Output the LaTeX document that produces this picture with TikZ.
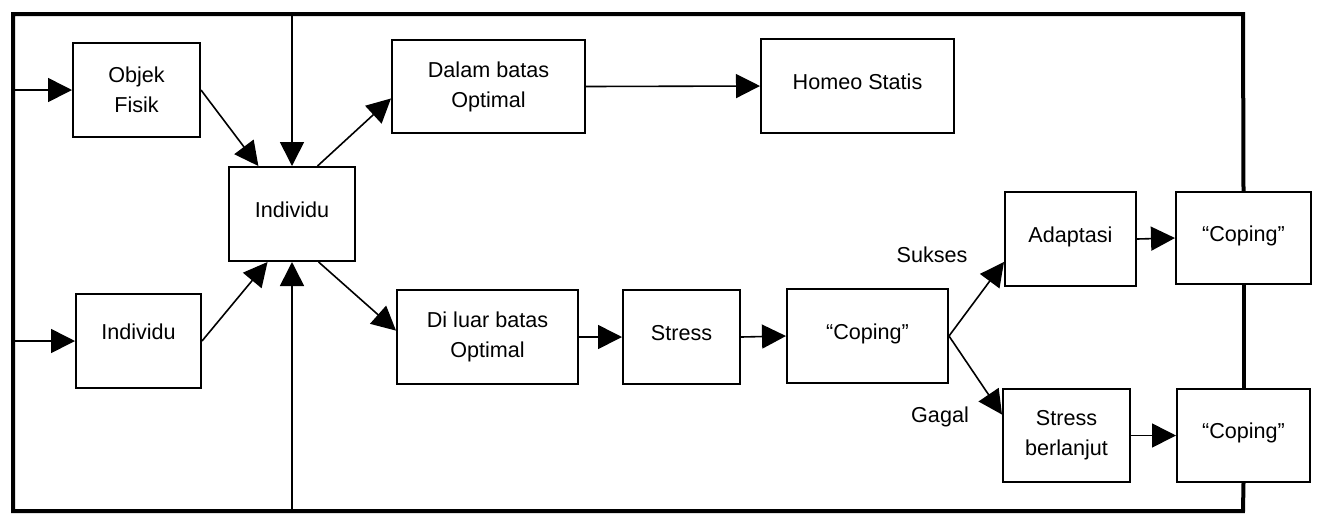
\documentclass[tikz,border=0pt]{standalone}
\usepackage{fontspec}
\setmainfont{Liberation Sans}
\usetikzlibrary{arrows.meta}

\begin{document}
\begin{tikzpicture}[x=0.5pt,y=-0.5pt,
  box/.style={draw, line width=1pt, align=center, inner sep=0pt,
    font=\fontsize{10.8}{15}\selectfont},
  oneline/.style={text height=8pt, text depth=5pt},
  lowline/.style={text height=8pt, text depth=10pt},
  flow/.style={line width=0.8pt, -{Triangle[length=12pt,width=12pt]}},
  loop/.style={line width=2pt, line join=miter},
  tag/.style={font=\fontsize{10.8}{13}\selectfont, inner sep=0pt}]

\useasboundingbox (0,0) rectangle (1318,516);

% corners of the surrounding feedback loop
\coordinate (TL) at (13,14);
\coordinate (TR) at (1243,14);
\coordinate (BR) at (1243,511);
\coordinate (BL) at (13,511);

% boxes
\node[box, minimum width=63.5pt, minimum height=47pt] (objek) at (136.5,90) {Objek\\Fisik};
\node[box, oneline, minimum width=63pt, minimum height=47pt] (indC) at (292,214) {Individu};
\node[box, lowline, minimum width=62.5pt, minimum height=47pt] (indL) at (138.5,341) {Individu};
\node[box, minimum width=96.5pt, minimum height=46.5pt] (dalam) at (488.5,86.5) {Dalam batas\\Optimal};
\node[box, oneline, minimum width=96.5pt, minimum height=47pt] (homeo) at (857.5,86) {Homeo Statis};
\node[box, minimum width=90.5pt, minimum height=47pt] (diluar) at (487.5,337) {Di luar batas\\Optimal};
\node[box, oneline, minimum width=58.5pt, minimum height=47pt] (stress) at (681.5,337) {Stress};
\node[box, oneline, minimum width=80.5pt, minimum height=47pt] (copM) at (867.5,336) {“Coping”};
\node[box, oneline, minimum width=65.5pt, minimum height=47pt] (adapt) at (1070.5,239) {Adaptasi};
\node[box, oneline, minimum width=67.5pt, minimum height=46pt] (copT) at (1243.5,238) {“Coping”};
\node[box, minimum width=63.5pt, minimum height=46.5pt] (sber) at (1066.5,435.5) {Stress\\berlanjut};
\node[box, oneline, minimum width=66.5pt, minimum height=46.5pt] (copB) at (1243.5,435.5) {“Coping”};

% branch labels
\node[tag] (sukses) at (932,255) {Sukses};
\node[tag] (gagal) at (940,417) {Gagal};

% feedback loop frame
\draw[loop] (copB.south) -- (BR) -- (BL) -- (TL) -- (TR) -- (copT.north);
\draw[loop] (copT.south) -- (copB.north);

% inputs from the frame
\draw[flow] (TL |- objek) -- (objek.west);
\draw[flow] (TL |- indL) -- (indL.west);
\draw[flow] (indC |- TL) -- (indC.north);
\draw[flow] (indC |- BL) -- (indC.south);

% flow through the model
\draw[flow] (objek.east) -- (indC.125);
\draw[flow] (indL.east) -- (indC.243);
\draw[flow] (indC.62) -- (dalam.187);
\draw[flow] (indC.299) -- (diluar.176);
\draw[flow] (dalam.east) -- (homeo.west);
\draw[flow] (diluar.east) -- (stress.west);
\draw[flow] (stress.east) -- (copM.west);
\draw[flow] (copM.east) -- (adapt.199);
\draw[flow] (copM.east) -- (sber.162);
\draw[flow] (adapt.east) -- (copT.west);
\draw[flow] (sber.east) -- (copB.west);

\end{tikzpicture}
\end{document}
